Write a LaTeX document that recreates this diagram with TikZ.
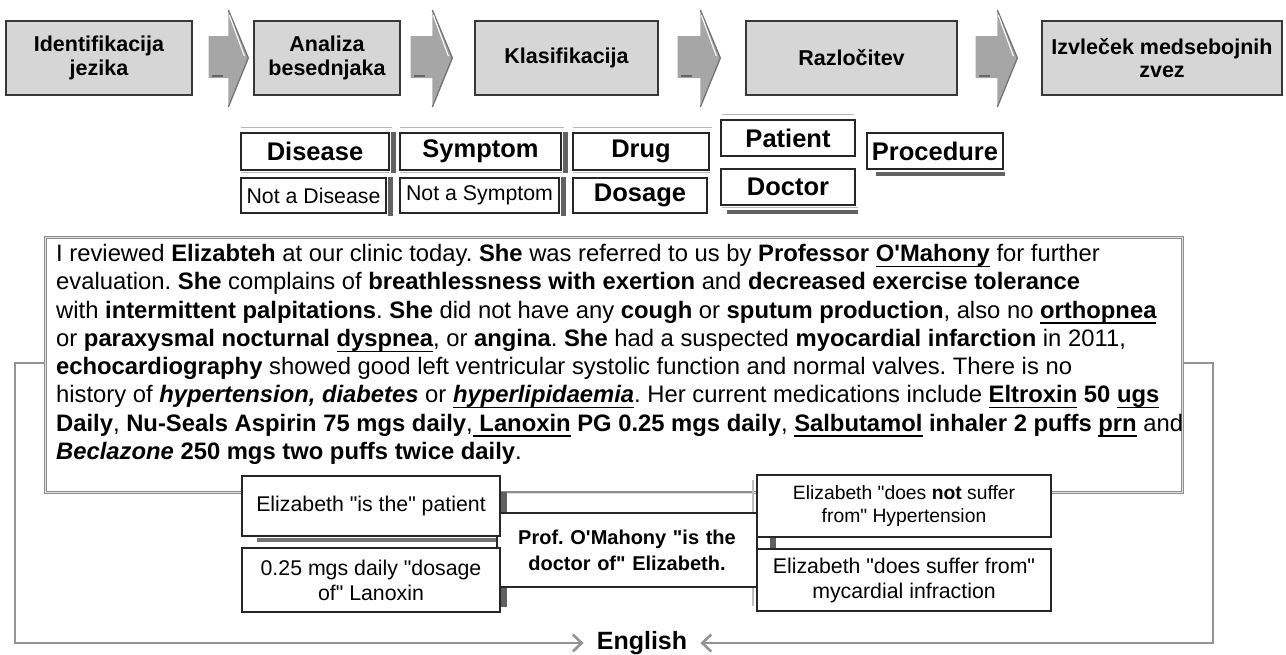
\documentclass[tikz,border=0pt]{standalone}
\usepackage{fontspec}
\setmainfont{Liberation Sans}
\usetikzlibrary{arrows.meta,calc}
\frenchspacing

% underline that sits below the descenders
\newcommand\ulx[1]{\leavevmode\setbox0\hbox{#1}\rlap{\rule[-5.5pt]{\wd0}{1.3pt}}\box0\relax}
% straight apostrophe and straight double quote
\newcommand\sq{\XeTeXglyph\XeTeXcharglyph"27\relax}
\newcommand\dq{\XeTeXglyph\XeTeXcharglyph"22\relax}

% block arrow between two stages: #1 = start of the shaft, #2 = tip
\newcommand\stagearrow[2]{%
  \fill[black!35] ($(#1)+(0,-22)$) -- ($(#2)+(-20,-22)$) -- ($(#2)+(-20,-48)$) -- (#2)
     -- ($(#2)+(-20,49)$) -- ($(#2)+(-20,20)$) -- ($(#1)+(0,20)$) -- cycle;
  \draw[black!55, line width=1.3pt, line join=miter] ($(#2)+(-20,-48)$) -- (#2) -- ($(#2)+(-20,49)$);
  \draw[white, line width=1.1pt] ($(#2)+(-19,-43)$) -- ($(#2)+(-4,-2)$);
  \draw[black!60, line width=2pt] ($(#1)+(3,18)$) -- ($(#1)+(14,18)$);
}

\tikzset{
  stage/.style={draw=black!78, fill=black!16, line width=1.3pt, align=center,
    inner sep=2pt, minimum height=74pt, font=\fontsize{21.5}{23.5}\selectfont\bfseries},
  cat/.style={draw=black!85, fill=white, line width=1.2pt, inner sep=0pt,
    minimum height=37pt, font=\fontsize{25.5}{27}\selectfont\bfseries},
  catn/.style={cat, minimum height=35pt, font=\fontsize{21.3}{24}\selectfont},
  lightedge/.style={draw=black!28, line width=1.6pt},
  darkedge/.style={fill=black!62},
  ptext/.style={inner sep=0pt, align=left, font=\fontsize{23.8}{28.3}\selectfont},
  parabox/.style={draw=black!45, double=black!12, double distance=0.9pt, line width=1pt,
    inner sep=0pt},
  rel/.style={draw=black!85, fill=white, line width=1.2pt, align=center, inner sep=0pt,
    font=\fontsize{21.3}{25}\selectfont},
  loopline/.style={draw=black!42, line width=2.6pt,
    -{Straight Barb[length=9pt,width=17pt]}},
}

\begin{document}
\begin{tikzpicture}[x=1pt,y=-1pt]
\useasboundingbox (0,0) rectangle (1286,654);

% ---- processing stages ----
\node[stage, minimum width=186pt] (s1) at (99,58)    {Identifikacija\\jezika};
\node[stage, minimum width=146pt] (s2) at (327,58)   {Analiza\\besednjaka};
\node[stage, minimum width=183pt] (s3) at (566.5,58) {Klasifikacija};
\node[stage, minimum width=211pt] (s4) at (851.5,58) {Razločitev};
\node[stage, minimum width=240pt] (s5) at (1162,58)  {Izvleček medsebojnih\\zvez};

\coordinate (a1s) at ($(s1.east)+(16,0)$);  \coordinate (a1t) at ($(s2.west)+(-5,0)$);
\coordinate (a2s) at ($(s2.east)+(10,0)$);  \coordinate (a2t) at ($(s3.west)+(-22,0)$);
\coordinate (a3s) at ($(s3.east)+(19,0)$);  \coordinate (a3t) at ($(s4.west)+(-25,0)$);
\coordinate (a4s) at ($(s4.east)+(18,0)$);  \coordinate (a4t) at ($(s5.west)+(-24,0)$);
\stagearrow{a1s}{a1t}
\stagearrow{a2s}{a2t}
\stagearrow{a3s}{a3t}
\stagearrow{a4s}{a4t}

% ---- entity classes ----
\node[cat,  minimum width=148pt] (dis)  at (315,151.5)   {Disease};
\node[cat,  minimum width=161pt] (sym)  at (480.5,151.5) {Symptom};
\node[cat,  minimum width=136pt] (drug) at (641,151.5)   {Drug};
\node[catn, minimum width=145pt] (ndis) at (313.5,195.5) {Not a Disease};
\node[catn, minimum width=159pt] (nsym) at (479.5,195.5) {Not a Symptom};
\node[cat,  minimum width=134pt, minimum height=35pt] (dos) at (640,195.5) {Dosage};
\node[cat,  minimum width=134pt, minimum height=36pt] (pat) at (788,138) {Patient};
\node[cat,  minimum width=134pt, minimum height=36pt] (doc) at (788,187) {Doctor};
\node[cat,  minimum width=136pt, minimum height=36pt] (proc) at (935,151) {Procedure};

\foreach \n in {dis,sym,drug,ndis,nsym,dos}
  \draw[lightedge] ($(\n.north west)+(1,-5)$) -- ($(\n.north east)+(2,-5)$);
\foreach \n in {dis,sym,ndis,nsym}
  \fill[darkedge] ($(\n.north east)+(1,0)$) rectangle ($(\n.south east)+(6,2)$);
\draw[lightedge] ($(pat.north west)+(2,-5)$) -- ($(pat.north east)+(-2,-5)$);
\draw[lightedge] ($(doc.south west)+(2,2)$) -- ($(doc.south east)+(2,2)$);
\fill[darkedge] ($(doc.south west)+(7,4)$) rectangle ($(doc.south east)+(2,8)$);
\fill[darkedge] ($(proc.south west)+(10,2)$) rectangle ($(proc.south east)+(1,6)$);

% ---- clinical letter ----
\node[parabox, minimum width=1137pt, minimum height=255pt, anchor=north west] (para) at (45,237) {};
\node[ptext, anchor=north west] (ptext) at (56,244) {%
I reviewed \textbf{Elizabteh} at our clinic today. \textbf{She} was referred to us by \textbf{Professor \ulx{O\sq Mahony}} for further\\
evaluation. \textbf{She} complains of \textbf{breathlessness with exertion} and \textbf{decreased exercise tolerance}\\
with \textbf{intermittent palpitations}. \textbf{She} did not have any \textbf{cough} or \textbf{sputum production}, also no \textbf{\ulx{orthopnea}}\\
or \textbf{paraxysmal nocturnal \ulx{dyspnea}}, or \textbf{angina}. \textbf{She} had a suspected \textbf{myocardial infarction} in 2011,\\
\textbf{echocardiography} showed good left ventricular systolic function and normal valves. There is no\\
history of \textbf{\textit{hypertension, diabetes}} or \textbf{\textit{\ulx{hyperlipidaemia}}}. Her current medications include \textbf{\ulx{Eltroxin} 50 \ulx{ugs}}\\
\textbf{Daily}, \textbf{Nu-Seals Aspirin 75 mgs daily},\textbf{\ulx{ Lanoxin} PG 0.25 mgs daily}, \textbf{\ulx{Salbutamol} inhaler 2 puffs \ulx{prn}} and\\
\textbf{\textit{Beclazone}} \textbf{250 mgs two puffs twice daily}.};

% ---- extracted relations ----
% shadow frames behind the relation boxes
\draw[parabox] (506,493) rectangle (753,586);
\fill[darkedge] (500,492) rectangle (507,607);
\fill[black!55] (257,538) rectangle (497,542);
\fill[darkedge] (770,536) rectangle (776,550);
\draw[black!25, line width=1.5pt] (753,480) -- (753,606);

\node[rel, minimum width=260pt, minimum height=74pt, font=\fontsize{20}{26}\selectfont\bfseries,
  text width=250pt] (prof) at (627,550) {Prof. O\sq Mahony \dq is the\\doctor of\dq{} Elizabeth.};
\node[rel, minimum width=258pt, minimum height=60pt] (r1) at (371,506) {Elizabeth \dq is the\dq{} patient};
\node[rel, minimum width=258pt, minimum height=64pt] (r2) at (371,580) {0.25 mgs daily \dq dosage\\of\dq{} Lanoxin};
\node[rel, minimum width=294pt, minimum height=62pt, font=\fontsize{19.3}{23}\selectfont]
  (r3) at (904,506) {Elizabeth \dq does \textbf{not} suffer\\from\dq{} Hypertension};
\node[rel, minimum width=294pt, minimum height=62pt] (r4) at (904,580) {Elizabeth \dq does suffer from\dq\\mycardial infraction};

% ---- output language ----
\node[inner xsep=13pt, inner ysep=2pt, font=\fontsize{25}{28}\selectfont\bfseries] (eng) at (642,643) {English};
\draw[loopline] ($(para.north west)+(0,126)$) -- ++(-30,0) |- (eng.west);
\draw[loopline] ($(para.north east)+(0,126)$) -- ++(30,0) |- (eng.east);
\end{tikzpicture}
\end{document}
